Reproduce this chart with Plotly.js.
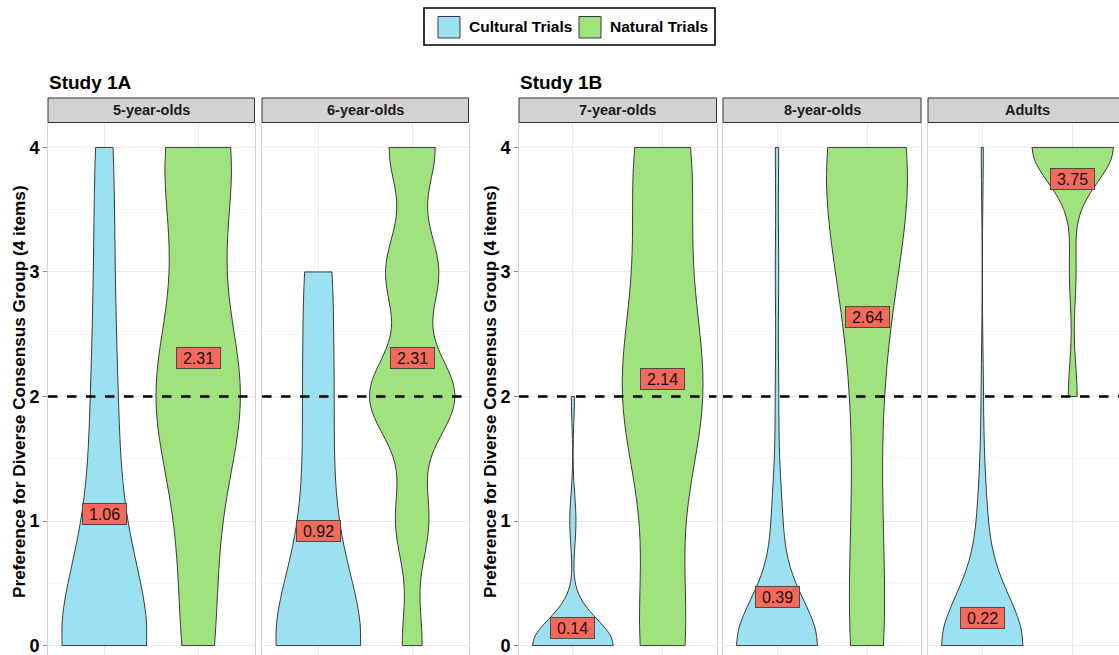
<!DOCTYPE html>
<html>
<head>
<meta charset="utf-8">
<script src="https://cdn.plot.ly/plotly-3.0.1.min.js"></script>
<style>
html, body { margin: 0; padding: 0; background: #ffffff; }
#chart { width: 1119px; height: 655px; }
</style>
</head>
<body>
<div id="chart"></div>
<script>
// ---------------- DATA ----------------
const studies = ['Study 1A', 'Study 1B'];
const groups = ['5-year-olds', '6-year-olds', '7-year-olds', '8-year-olds', 'Adults'];
const groupStudy = [0, 0, 1, 1, 1];
const conditions = ['Cultural Trials', 'Natural Trials'];
const scores = [0, 1, 2, 3, 4];
// number of participants giving each score (0,1,2,3,4 items)
const culturalCounts = [
  [17, 5, 4, 3, 3],
  [14, 4, 4, 4, 0],
  [26, 2, 1, 0, 0],
  [25, 3, 1, 1, 1],
  [39, 4, 1, 0, 1]
];
const naturalCounts = [
  [4, 4, 11, 4, 9],
  [3, 5, 13, 8, 7],
  [6, 2, 10, 4, 7],
  [6, 3, 3, 6, 15],
  [0, 0, 4, 3, 37]
];
const culturalMeans = [1.06, 0.92, 0.14, 0.39, 0.22];
const naturalMeans = [2.31, 2.31, 2.14, 2.64, 3.75];
const chanceLevel = 2;
const yTicks = [0, 1, 2, 3, 4];
const yTitle = 'Preference for Diverse Consensus Group (4 items)';

// ---------------- STYLE ----------------
const kdeBandwidth = {
  cultural: [0.60, 0.55, 0.21, 0.38, 0.41],
  natural:  [0.60, 0.33, 0.66, 0.80, 0.28]
};
const colors = { cultural: '#9BE1F1', natural: '#A0E27E', label: '#F7695A' };
const FONT = 'Liberation Sans, Arial, Helvetica, sans-serif';
const W = 1119, H = 655;
const panelPx = [[48, 254.5], [262, 468.5], [519, 716.5], [723, 921], [928, 1127]];
const stripTop = 98, stripBottom = 122.5;
const yRange = [-0.0755, 4.2];
const px = v => v / W;
const py = v => 1 - v / H;

// ---------------- BUILD ----------------
function expand(counts) {
  const out = [];
  counts.forEach((c, k) => { for (let j = 0; j < c; j++) out.push(scores[k]); });
  return out;
}

const traces = [];
const annotations = [];
const shapes = [];
const layout = {
  width: W, height: H, autosize: false,
  margin: { l: 0, r: 0, t: 0, b: 0, pad: 0 },
  paper_bgcolor: '#ffffff', plot_bgcolor: '#ffffff',
  font: { family: FONT, color: '#000000' },
  showlegend: false,
  violinmode: 'overlay',
  hovermode: 'closest'
};

groups.forEach((g, i) => {
  const n = i + 1;
  const xid = 'x' + (n === 1 ? '' : n);
  const yid = 'y' + (n === 1 ? '' : n);
  const [left, right] = panelPx[i];
  const unit = (right - left) / 2.2;
  const visRight = Math.min(right, W);
  const firstInStudy = (i === 0 || groupStudy[i] !== groupStudy[i - 1]);

  layout['xaxis' + (n === 1 ? '' : n)] = {
    domain: [px(left), px(visRight)],
    anchor: yid,
    type: 'category',
    categoryorder: 'array', categoryarray: conditions,
    range: [-0.6, -0.6 + (visRight - left) / unit],
    showgrid: true, gridcolor: '#EBEBEB', gridwidth: 1,
    showticklabels: false, ticks: '', zeroline: false, showline: false,
    fixedrange: true
  };
  layout['yaxis' + (n === 1 ? '' : n)] = {
    domain: [0, py(stripBottom)],
    anchor: xid,
    range: yRange,
    tickvals: yTicks,
    ticktext: yTicks.map(String),
    showgrid: true, gridcolor: '#EBEBEB', gridwidth: 1,
    minor: { dtick: 0.5, tick0: 0, showgrid: true, gridcolor: '#F6F6F6', gridwidth: 1 },
    zeroline: false,
    showline: true, linecolor: '#D4D4D4', linewidth: 1, mirror: i !== 4,
    showticklabels: firstInStudy,
    ticklabeloverflow: 'allow',
    ticks: firstInStudy ? 'outside' : '',
    ticklen: 4, tickwidth: 1, tickcolor: '#8A8A8A',
    tickfont: { family: FONT, size: 18, weight: 'bold', color: '#000000' },
    fixedrange: true
  };

  [['cultural', culturalCounts, culturalMeans], ['natural', naturalCounts, naturalMeans]].forEach(([key, countsArr, meansArr], c) => {
    const vals = expand(countsArr[i]);
    traces.push({
      type: 'violin',
      name: conditions[c],
      x: vals.map(() => conditions[c]),
      y: vals,
      xaxis: xid, yaxis: yid,
      spanmode: 'hard',
      bandwidth: kdeBandwidth[key][i],
      scalemode: 'width',
      width: 0.9,
      fillcolor: colors[key],
      line: { color: '#3A3A3A', width: 1 },
      points: false,
      box: { visible: false },
      meanline: { visible: false },
      hoveron: 'violins',
      showlegend: false
    });
    annotations.push({
      xref: xid, yref: yid,
      x: conditions[c], y: meansArr[i],
      text: '\u00a0' + meansArr[i].toFixed(2) + '\u00a0',
      showarrow: false,
      bgcolor: colors.label, bordercolor: '#4A4A4A', borderwidth: 1, borderpad: 1.5,
      font: { family: FONT, size: 16, color: '#111111' }
    });
  });

  // chance line
  shapes.push({
    type: 'line', xref: xid + ' domain', yref: yid,
    x0: 0, x1: 1, y0: chanceLevel, y1: chanceLevel,
    line: { color: '#000000', width: 2.6, dash: '9.5px,9.5px' },
    layer: 'above'
  });

  // facet strip
  shapes.push({
    type: 'rect', xref: 'paper', yref: 'paper',
    x0: px(left), x1: px(right), y0: py(stripBottom), y1: py(stripTop),
    fillcolor: '#D3D3D3', line: { color: '#333333', width: 1 }, layer: 'above'
  });
  annotations.push({
    xref: 'paper', yref: 'paper',
    x: px((left + right) / 2), y: py((stripTop + stripBottom) / 2),
    xanchor: 'center', yanchor: 'middle',
    text: g, showarrow: false,
    font: { family: FONT, size: 14.5, weight: 'bold', color: '#1A1A1A' }
  });

  if (firstInStudy) {
    annotations.push({
      xref: 'paper', yref: 'paper',
      x: px(left - 1), y: py(82), xanchor: 'left', yanchor: 'middle',
      text: studies[groupStudy[i]], showarrow: false,
      font: { family: FONT, size: 19, weight: 'bold', color: '#000000' }
    });
    annotations.push({
      xref: 'paper', yref: 'paper',
      x: px(left - 29), y: py(392), xanchor: 'center', yanchor: 'middle',
      text: yTitle, textangle: -90, showarrow: false,
      font: { family: FONT, size: 17.2, weight: 'bold', color: '#000000' }
    });
  }
});

// legend (drawn as a boxed key at the top)
const legendBox = { x0: 424, x1: 715, y0: 8, y1: 45 };
shapes.push({
  type: 'rect', xref: 'paper', yref: 'paper',
  x0: px(legendBox.x0), x1: px(legendBox.x1), y0: py(legendBox.y1), y1: py(legendBox.y0),
  fillcolor: '#ffffff', line: { color: '#000000', width: 1.6 }
});
const legendKeys = [
  { key: 'cultural', x: 438, tx: 467 },
  { key: 'natural', x: 579, tx: 608 }
];
legendKeys.forEach((k, c) => {
  shapes.push({
    type: 'rect', xref: 'paper', yref: 'paper',
    x0: px(k.x), x1: px(k.x + 22), y0: py(38), y1: py(16.5),
    fillcolor: colors[k.key], line: { color: '#3A3A3A', width: 1 }
  });
  annotations.push({
    xref: 'paper', yref: 'paper', x: px(k.tx), y: py(27), xanchor: 'left', yanchor: 'middle',
    text: conditions[c], showarrow: false,
    font: { family: FONT, size: 15.5, weight: 'bold', color: '#000000' }
  });
});

layout.annotations = annotations;
layout.shapes = shapes;

Plotly.newPlot('chart', traces, layout, { staticPlot: true, displayModeBar: false });
</script>
</body>
</html>
